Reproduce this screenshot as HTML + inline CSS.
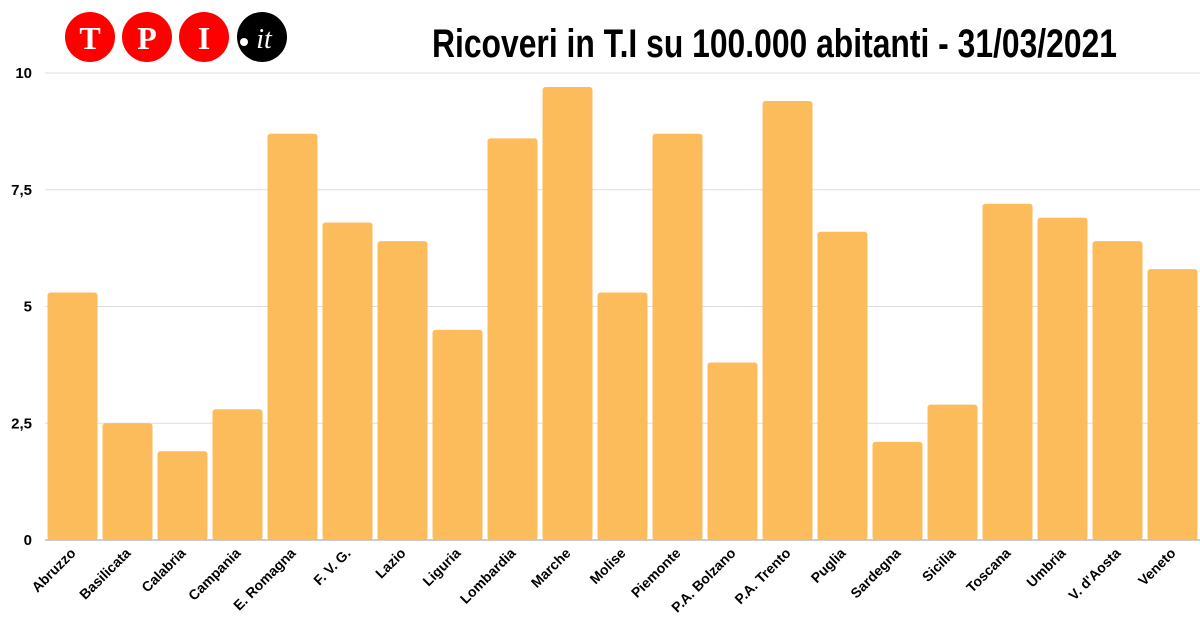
<!DOCTYPE html>
<html><head><meta charset="utf-8"><style>
body{margin:0;background:#fff}
svg{display:block;font-family:"Liberation Sans",sans-serif}
</style></head><body>
<svg id="chart" width="1200" height="630" viewBox="0 0 1200 630">
<g>
<circle cx="90" cy="37" r="25" fill="#f00"/><text x="90" y="49" font-family="Liberation Serif" font-weight="bold" font-size="32" fill="#fff" text-anchor="middle">T</text>
<circle cx="147" cy="37" r="25" fill="#f00"/><text x="147" y="49" font-family="Liberation Serif" font-weight="bold" font-size="32" fill="#fff" text-anchor="middle">P</text>
<circle cx="204" cy="37" r="25" fill="#f00"/><text x="204" y="49" font-family="Liberation Serif" font-weight="bold" font-size="32" fill="#fff" text-anchor="middle">I</text>
<circle cx="262" cy="37" r="25" fill="#000"/><circle cx="244" cy="42" r="4" fill="#fff"/><text x="264" y="48" font-family="Liberation Serif" font-style="italic" font-size="28" fill="#fff" text-anchor="middle">it</text>
</g>
<text x="432" y="57" font-size="40" font-weight="bold" textLength="685" lengthAdjust="spacingAndGlyphs">Ricoveri in T.I su 100.000 abitanti - 31/03/2021</text>
<g id="grid"></g><g id="bars"></g><g id="xl"></g>
</svg>
<script>
const categories=["Abruzzo","Basilicata","Calabria","Campania","E. Romagna","F. V. G.","Lazio","Liguria","Lombardia","Marche","Molise","Piemonte","P.A. Bolzano","P.A. Trento","Puglia","Sardegna","Sicilia","Toscana","Umbria","V. d'Aosta","Veneto"];
const values=[5.3,2.5,1.9,2.8,8.7,6.8,6.4,4.5,8.6,9.7,5.3,8.7,3.8,9.4,6.6,2.1,2.9,7.2,6.9,6.4,5.8];
const ticks=[0,2.5,5,7.5,10];
const tickLabels=["0","2,5","5","7,5","10"];
const NS="http://www.w3.org/2000/svg";
const x0=45,x1=1200,yb=540,yt=73,vmax=10;
const band=(x1-x0)/categories.length;
const y=v=>yb-(yb-yt)*v/vmax;
const xc=i=>x0+band*(i+0.5);
function mk(t,a,p){const e=document.createElementNS(NS,t);for(const k in a)e.setAttribute(k,a[k]);p.appendChild(e);return e;}
const g=document.getElementById('grid'),b=document.getElementById('bars'),xl=document.getElementById('xl');
ticks.forEach((t,i)=>{
 const l=mk('line',{x1:x0,x2:x1,y1:y(t),y2:y(t),stroke:t===0?'#999':'#ddd','stroke-width':1},g);
 
 
 const tx=mk('text',{x:32,y:y(t)+5,'text-anchor':'end','font-size':15,'font-weight':'bold',fill:'#000'},g);
 tx.textContent=tickLabels[i];
 
 
});
values.forEach((v,i)=>{
 const r=mk('rect',{x:xc(i)-25,y:y(v),width:50,height:yb-y(v),rx:3,fill:'#fdbc5c'},b);
 
 
 const cx=xc(i)+4,cy=554;
 const t=mk('text',{x:cx,y:cy,'text-anchor':'end','font-size':14,'font-weight':'bold',fill:'#000',transform:`rotate(-45 ${cx} ${cy})`},xl);
 t.textContent=categories[i];
 
 
});
</script>
</body></html>
